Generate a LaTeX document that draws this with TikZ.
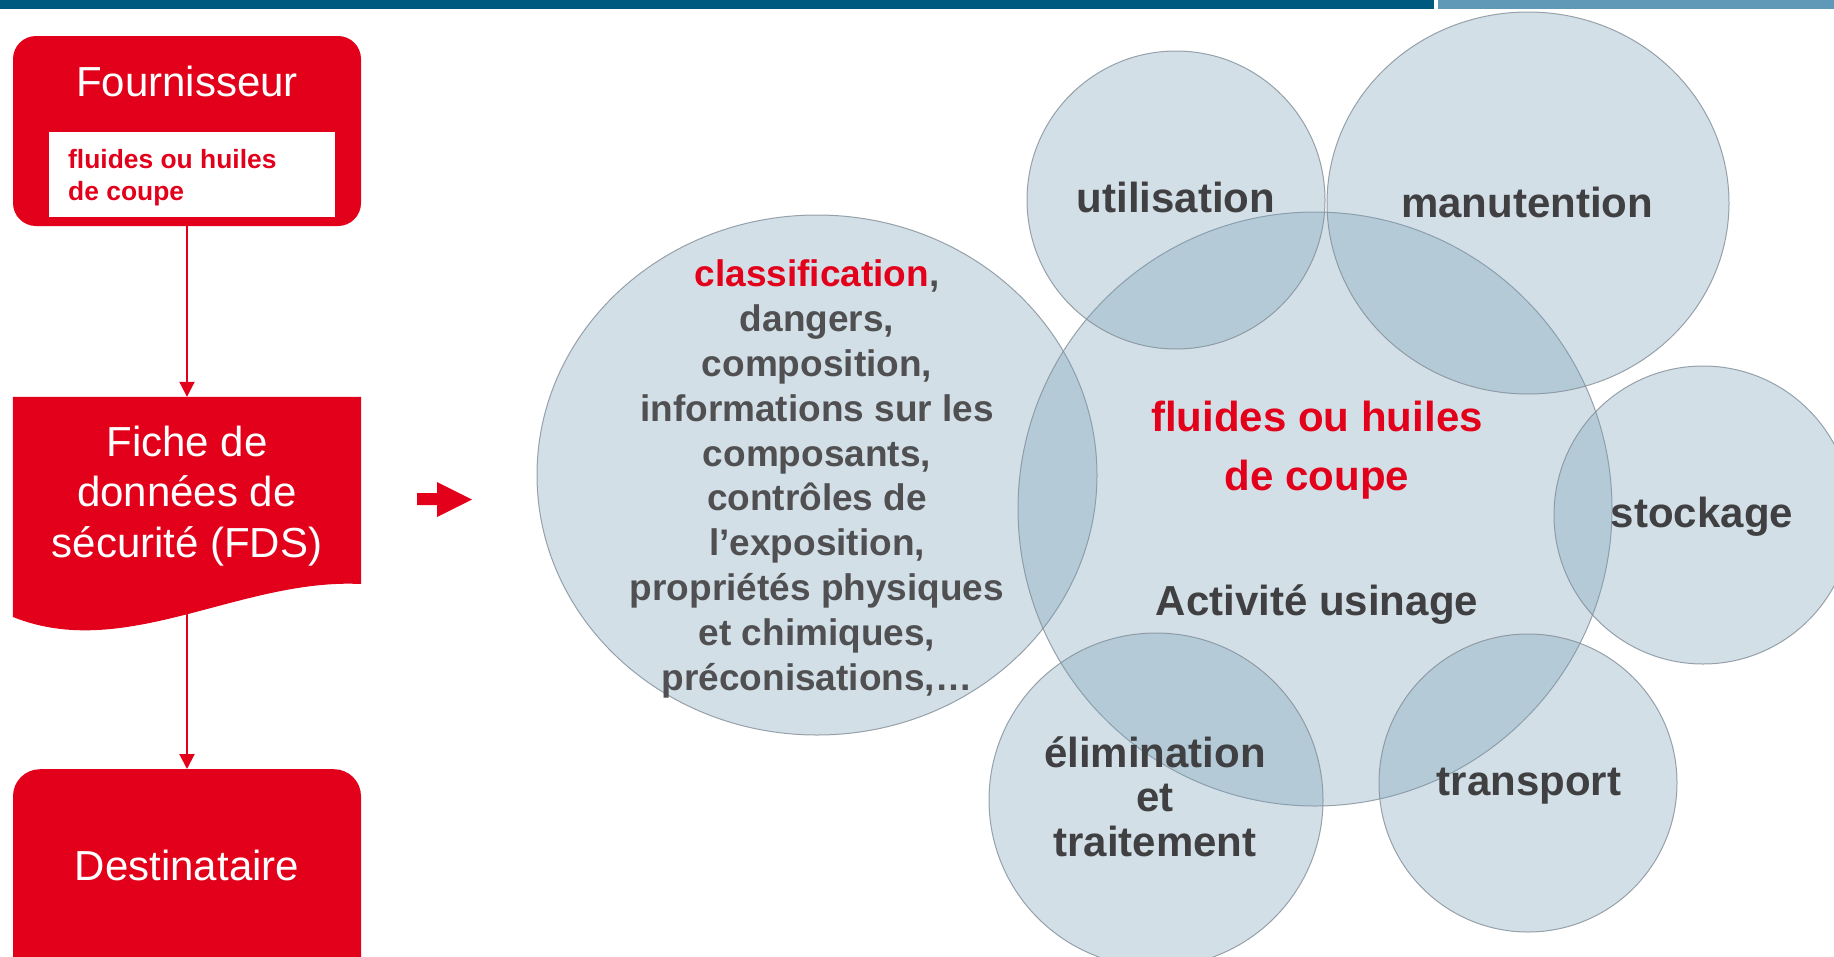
\documentclass[tikz,border=0pt]{standalone}
\usepackage{xcolor}
\usepackage{fontspec}
\setmainfont{Liberation Sans}
\usepackage{tikz}
\usetikzlibrary{arrows.meta}
\usetikzlibrary{shapes.geometric}

\definecolor{inrsred}{RGB}{226,0,26}
\definecolor{bullefill}{RGB}{119,158,182}
\definecolor{bulleline}{RGB}{130,142,152}
\definecolor{gristexte}{RGB}{64,64,66}
\definecolor{grisinfo}{RGB}{80,80,82}
\definecolor{bandeau}{RGB}{0,89,126}
\definecolor{bandeauclair}{RGB}{96,152,184}

\begin{document}
\begin{tikzpicture}[x=1pt,y=-1pt,
		bulle/.style={ellipse,inner sep=0pt,fill=bullefill,fill opacity=0.33,draw=bulleline,draw opacity=0.8,line width=1pt},
		boite/.style={fill=inrsred,rounded corners=23pt,minimum width=348pt,inner sep=0pt},
		blanc/.style={text=white,font=\fontsize{42}{50.5}\selectfont,align=center,anchor=base,inner sep=0pt},
		mot/.style={text=gristexte,font=\bfseries\fontsize{42}{44.5}\selectfont,align=center,anchor=base,inner sep=0pt},
		fleche/.style={inrsred,line width=2pt,-{Triangle[length=15pt,width=15pt]}}]
		\useasboundingbox (0,0) rectangle (1834,956);
		\clip (0,0) rectangle (1834,956);
		\fill[bandeau] (0,0) rectangle (1434,9);
		\fill[bandeauclair] (1438,0) rectangle (1834,9);
		% chaine fournisseur -> destinataire
		\node[boite,minimum height=190pt] (fourn) at (187,131) {};
		\node[blanc] (fourntitre) at (187,96) {Fournisseur};
		\node[fill=white,minimum width=286pt,minimum height=85pt,inner sep=0pt,anchor=north west] (produit) at (49,132) {};
		\node[font=\bfseries\fontsize{26.4}{32}\selectfont,text=inrsred,align=left,anchor=base west,inner sep=0pt] (produittxt) at (68,200) {fluides ou huiles\\de coupe};
		\node[minimum width=348pt,minimum height=210pt,inner sep=0pt] (fds) at (187,502) {};
		\fill[inrsred] (fds.north west) -- (fds.north east) -- (361,584)
			.. controls (240,578) and (125,662) .. (13,617) -- cycle;
		\node[blanc] (fdstxt) at (187,557) {Fiche de\\données de\\sécurité (FDS)};
		\node[boite,rounded corners=27pt,minimum height=220pt,anchor=north] (dest) at (187,769) {};
		\node[blanc] (desttxt) at (187,880) {Destinataire};
		\draw[fleche] (fourn) -- (fds);
		\draw[fleche] (fds) -- (dest);
		\fill[inrsred] (417,493) -- (437,493) -- (437,482) -- (472,499.5) -- (437,517) -- (437,505) -- (417,505) -- cycle;
		% bulles
		\node[bulle,minimum width=560pt,minimum height=520pt] (gauche) at (817,475) {};
		\node[bulle,minimum size=594pt] (centre) at (1315,509) {};
		\node[bulle,minimum size=298pt] (util) at (1176,200) {};
		\node[bulle,minimum width=402pt,minimum height=382pt] (manut) at (1528,203) {};
		\node[bulle,minimum size=298pt] (stock) at (1703,515) {};
		\node[bulle,minimum size=298pt] (transp) at (1528,783) {};
		\node[bulle,minimum size=334pt] (elim) at (1156,800) {};
		\node[mot,text=grisinfo,font=\bfseries\fontsize{37}{44.8}\selectfont] (infos) at (817,690)
			{\textcolor{inrsred}{classification},\\dangers,\\composition,\\informations sur les\\composants,\\contrôles de\\l’exposition,\\propriétés physiques\\et chimiques,\\préconisations,…};
		\node[mot,text=inrsred,font=\bfseries\fontsize{42}{59}\selectfont] (fluide) at (1317,490) {fluides ou huiles\\de coupe};
		\node[mot] (activite) at (1317,615) {Activité usinage};
		\node[mot] (utilmot) at (1176,212) {utilisation};
		\node[mot] (manutmot) at (1527,217) {manutention};
		\node[mot] (stockmot) at (1702,527) {stockage};
		\node[mot] (transpmot) at (1529,795) {transport};
		\node[mot] (elimmot) at (1155,856) {élimination\\et\\traitement};
\end{tikzpicture}
\end{document}
